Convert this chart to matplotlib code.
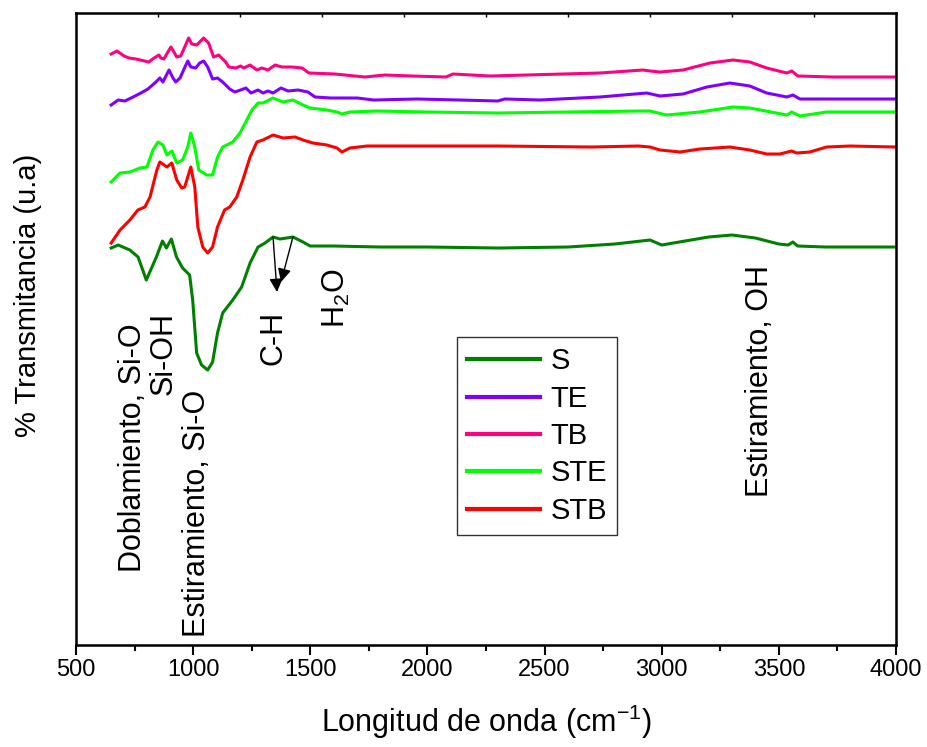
import matplotlib
matplotlib.use("Agg")
import matplotlib.pyplot as plt

plt.rcParams['font.family'] = ['Liberation Sans', 'DejaVu Sans']
plt.rcParams['mathtext.default'] = 'regular'

# espectros FTIR (unidades arbitrarias)
wn_S = [650, 680, 730, 765, 800, 843, 869, 886, 907, 929, 955, 985, 998, 1015, 1036, 1062, 1083,
        1104, 1126, 1169, 1207, 1243, 1277, 1307, 1341, 1371, 1426, 1469, 1499, 1600, 1800, 2000,
        2300, 2600, 2800, 2950, 3000, 3100, 3200, 3300, 3400, 3500, 3540, 3560, 3580, 3700, 4000]
S = [397, 400, 395, 388, 365, 388, 404, 397, 406, 388, 377, 370, 345, 292, 280, 275, 283,
     312, 332, 345, 358, 382, 398, 402, 408, 406, 408, 403, 399, 399, 398, 398,
     397, 398, 401, 405, 400, 404, 408, 410, 407, 401, 400, 403, 399, 398, 398]

wn_STB = [650, 688, 730, 764, 794, 816, 845, 858, 888, 909, 930, 951, 964, 990, 1007, 1020, 1041,
          1062, 1083, 1104, 1134, 1156, 1186, 1212, 1243, 1272, 1298, 1341, 1384, 1435, 1469, 1511,
          1571, 1614, 1635, 1669, 1742, 1900, 2300, 2700, 2900, 2950, 2993, 3078, 3163, 3291, 3376,
          3448, 3504, 3555, 3576, 3632, 3704, 3803, 4000]
STB = [402, 415, 425, 435, 438, 448, 475, 483, 478, 482, 465, 457, 458, 478, 458, 418, 398,
       392, 398, 418, 435, 438, 448, 465, 488, 503, 505, 510, 507, 508, 505, 502,
       500, 497, 493, 497, 499, 499, 499, 498, 499, 498, 495, 493, 496, 498, 495,
       491, 491, 494, 492, 493, 498, 499, 498]

wn_STE = [650, 688, 730, 773, 803, 828, 850, 871, 888, 909, 930, 955, 977, 990, 1007, 1024, 1058,
          1083, 1104, 1126, 1169, 1200, 1229, 1251, 1277, 1298, 1341, 1384, 1426, 1469, 1499, 1571,
          1614, 1635, 1669, 1785, 2000, 2300, 2900, 2950, 3020, 3163, 3305, 3376, 3534, 3555, 3590,
          3704, 4000]
STE = [463, 472, 473, 477, 478, 495, 503, 500, 490, 494, 482, 485, 498, 512, 498, 475, 470,
       470, 488, 498, 503, 512, 525, 535, 542, 542, 547, 543, 545, 540, 537, 535,
       533, 531, 533, 534, 533, 532, 534, 534, 530, 533, 538, 537, 530, 533, 529,
       533, 533]

wn_TE = [650, 680, 709, 735, 777, 807, 841, 858, 871, 897, 914, 926, 944, 965, 977, 990, 1011,
         1028, 1045, 1062, 1083, 1104, 1126, 1156, 1178, 1203, 1225, 1247, 1277, 1298, 1319, 1341,
         1375, 1405, 1448, 1490, 1520, 1588, 1700, 1771, 1955, 2139, 2300, 2330, 2480, 2736, 2936,
         2993, 3091, 3193, 3291, 3376, 3448, 3534, 3560, 3590, 4000]
TE = [540, 545, 544, 547, 552, 556, 563, 567, 563, 575, 567, 563, 567, 578, 584, 578, 577,
      582, 584, 578, 566, 567, 563, 556, 553, 555, 557, 552, 555, 552, 554, 552,
      557, 554, 555, 553, 548, 547, 547, 545, 546, 545, 544, 546, 545, 548, 552,
      549, 551, 558, 562, 559, 552, 548, 550, 546, 546]

wn_TB = [650, 675, 705, 726, 756, 811, 833, 854, 862, 875, 905, 918, 930, 947, 981, 994, 1015,
         1045, 1066, 1087, 1109, 1139, 1152, 1182, 1203, 1216, 1243, 1272, 1294, 1319, 1350, 1379,
         1422, 1465, 1494, 1605, 1733, 1818, 1934, 2079, 2109, 2266, 2736, 2920, 2950, 2993, 3091,
         3206, 3304, 3376, 3448, 3534, 3555, 3581, 3730, 4000]
TB = [591, 594, 589, 587, 586, 583, 587, 590, 587, 586, 598, 593, 588, 589, 607, 601, 600,
      607, 602, 588, 590, 583, 578, 577, 579, 577, 580, 575, 577, 575, 580, 578,
      578, 577, 572, 571, 568, 570, 569, 568, 571, 569, 572, 575, 574, 573, 575,
      582, 585, 583, 577, 572, 574, 569, 568, 568]

series = [("S", wn_S, S, "#008000"),
          ("TE", wn_TE, TE, "#8000ff"),
          ("TB", wn_TB, TB, "#ff0080"),
          ("STE", wn_STE, STE, "#00ff00"),
          ("STB", wn_STB, STB, "#ff0000")]

fig = plt.figure(figsize=(9.28, 7.47), dpi=100)
ax = fig.add_axes([0.0819, 0.1365, 0.8836, 0.8461])

for name, x, y, c in series:
    ax.plot(x, y, color=c, lw=2.2, label=name)

ax.set_xlim(500, 4000)
ax.set_ylim(0, 632)
ax.set_xticks(range(500, 4001, 500))
ax.set_xticks(range(750, 4000, 500), minor=True)
ax.set_yticks([])
ax.tick_params(axis='x', which='major', direction='out', length=7, width=1.5,
               labelsize=17, pad=3, top=False)
ax.tick_params(axis='x', which='minor', direction='out', length=4, width=1.5, top=False)
for sp in ax.spines.values():
    sp.set_linewidth(1.8)

# marcas pequenas en el eje superior
top = ax.twiny()
top.set_xlim(500, 4000)
top.set_xticks(range(850, 4000, 350))
top.set_xticklabels([])
top.tick_params(axis='x', direction='in', length=3, width=1)

ax.set_xlabel('Longitud de onda (cm$^{-1}$)', fontsize=22, labelpad=16)
ax.set_ylabel('% Transmitancia (u.a)', fontsize=21)
ax.yaxis.set_label_coords(-0.041, 0.554)

txt = dict(rotation=90, fontsize=22, ha='center', va='bottom')
ax.text(745, 73, 'Doblamiento, Si-O', **txt)
ax.text(875, 250, 'Si-OH', **txt)
ax.text(1015, 8, 'Estiramiento, Si-O', **txt)
ax.text(1345, 280, 'C-H', **txt)
ax.text(1610, 317, 'H$_2$O', **txt)
ax.text(3420, 148, 'Estiramiento, OH', **txt)

arrow = dict(arrowstyle='-|>', color='black', lw=1, mutation_scale=20, shrinkA=0, shrinkB=0)
ax.annotate('', xy=(1358, 353), xytext=(1341, 408), arrowprops=arrow)
ax.annotate('', xy=(1375, 363), xytext=(1426, 408), arrowprops=arrow)

leg = ax.legend(loc='upper left', bbox_to_anchor=(0.4646, 0.487), borderaxespad=0,
                fontsize=21, frameon=True, fancybox=False, handlelength=2.5,
                handletextpad=0.35, labelspacing=0.32, borderpad=0.35)
leg.get_frame().set_edgecolor('black')
leg.get_frame().set_linewidth(1)
for h in leg.get_lines():
    h.set_linewidth(3)

fig.savefig('out.png', dpi=100)
